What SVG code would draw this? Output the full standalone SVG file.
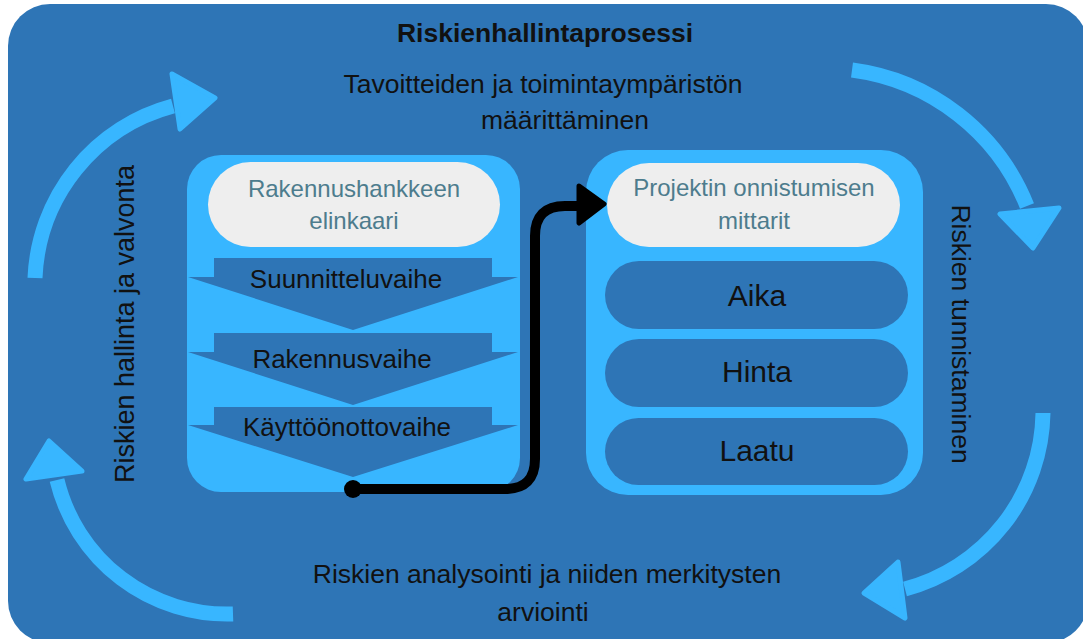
<svg xmlns="http://www.w3.org/2000/svg" width="1083" height="639" viewBox="0 0 1083 639">
<style>
text{font-family:"Liberation Sans",Arial,sans-serif;fill:#111}
.t{font-size:26.5px;text-anchor:middle}
.title{font-size:26.5px;font-weight:bold;text-anchor:middle}
.pilltxt{font-size:24px;fill:#4d7c8d;text-anchor:middle}
.dark{fill:#2e75b6}
.light{fill:#38b6ff}
.pill{fill:#eeeeee}
.stage{font-size:26px;text-anchor:middle}
.metric{font-size:30px;text-anchor:middle}
.cyc{fill:none;stroke:#38b6ff;stroke-width:15}
.head{fill:#38b6ff;stroke:#38b6ff;stroke-width:5;stroke-linejoin:round}
.conn{fill:none;stroke:#000;stroke-width:10;stroke-linejoin:round}
</style>
<rect id="background" x="8" y="4" width="1080" height="639" rx="42" class="dark"/>
<g id="title"><text class="title" x="545" y="42">Riskienhallintaprosessi</text></g>
<g id="step-top"><text class="t" x="543" y="93">Tavoitteiden ja toimintaympäristön</text><text class="t" x="565" y="129">määrittäminen</text></g>
<g id="step-right"><text class="t" transform="translate(952,334) rotate(90)" x="0" y="0">Riskien tunnistaminen</text></g>
<g id="step-bottom"><text class="t" x="547" y="583">Riskien analysointi ja niiden merkitysten</text><text class="t" x="543" y="621">arviointi</text></g>
<g id="step-left"><text class="t" style="font-size:27px" transform="translate(134,324) rotate(-90)" x="0" y="0">Riskien hallinta ja valvonta</text></g>
<g id="cycle-arrows">
<path class="cyc" d="M35,278 A186,186 0 0 1 173,106"/>
<polygon class="head" points="172,74 215,98 180,129"/>
<path class="cyc" d="M852,70 A219,219 0 0 1 1027,206"/>
<polygon class="head" points="1000,214 1059,208 1033,248"/>
<path class="cyc" d="M1043,413 A185,185 0 0 1 905,589"/>
<polygon class="head" points="898,562 864,593 905,618"/>
<path class="cyc" d="M233,614 A175,175 0 0 1 57,480"/>
<polygon class="head" points="49,441 26,479 82,471"/>
</g>
<g id="lifecycle">
<rect x="187" y="155" width="333" height="337" rx="34" class="light"/>
<rect x="208" y="162" width="292" height="85" rx="42.5" class="pill"/>
<text class="pilltxt" x="354" y="197">Rakennushankkeen</text>
<text class="pilltxt" x="354" y="229">elinkaari</text>
</g>
<g id="stage-suunnittelu">
<polygon class="dark" points="214,258 492,258 492,277 518,277 353,330 188,277 214,277"/>
<text class="stage" x="346" y="288">Suunnitteluvaihe</text>
</g>
<g id="stage-rakennus">
<polygon class="dark" points="214,333 492,333 492,352 518,352 353,405 188,352 214,352"/>
<text class="stage" x="342" y="368">Rakennusvaihe</text>
</g>
<g id="stage-kaytto">
<polygon class="dark" points="214,407 492,407 492,425 518,425 353,477 188,425 214,425"/>
<text class="stage" x="347" y="436">Käyttöönottovaihe</text>
</g>
<g id="metrics">
<rect x="586" y="150" width="337" height="345" rx="42" class="light"/>
<rect x="607" y="163" width="293" height="84" rx="42" class="pill"/>
<text class="pilltxt" x="754" y="196">Projektin onnistumisen</text>
<text class="pilltxt" x="754" y="229">mittarit</text>
</g>
<g id="metric-aika"><rect x="605" y="261" width="303" height="68" rx="34" class="dark"/><text class="metric" x="757" y="306">Aika</text></g>
<g id="metric-hinta"><rect x="605" y="339" width="303" height="68" rx="34" class="dark"/><text class="metric" x="757" y="382">Hinta</text></g>
<g id="metric-laatu"><rect x="605" y="418" width="303" height="67" rx="33.5" class="dark"/><text class="metric" x="757" y="461">Laatu</text></g>
<g id="connectors">
<circle cx="353" cy="489" r="9" fill="#000"/>
<path class="conn" d="M353,489 H505 Q535,489 535,459 V236 Q535,206 565,206 H582"/>
<polygon points="579,186 604,204 579,223" fill="#000" stroke="#000" stroke-width="5" stroke-linejoin="round"/>
</g>
</svg>
